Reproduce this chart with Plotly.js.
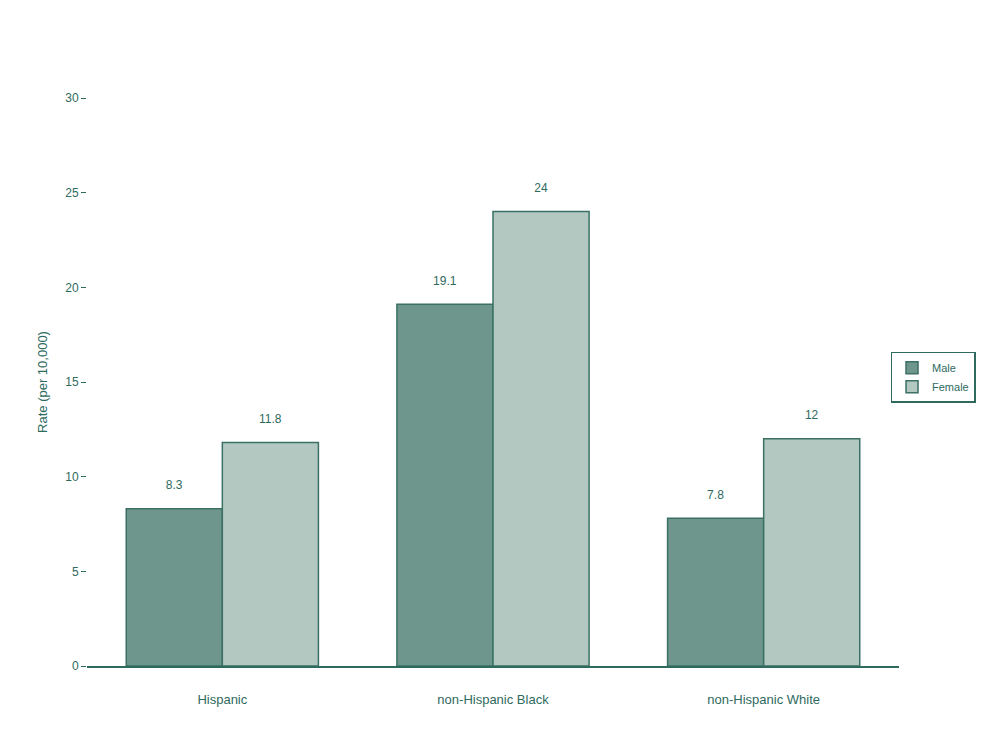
<!DOCTYPE html>
<html>
<head>
<meta charset="utf-8">
<script src="https://cdn.plot.ly/plotly-3.0.1.min.js"></script>
<style>html,body{margin:0;padding:0;background:#fff;}#chart{width:984px;height:736px;}</style>
</head>
<body>
<div id="chart"></div>
<script>
const categories = ["Hispanic", "non-Hispanic Black", "non-Hispanic White"];
const maleValues = [8.3, 19.1, 7.8];
const femaleValues = [11.8, 24, 12];
const yTickValues = [0, 5, 10, 15, 20, 25, 30];

const ink = "#2f6a5e";
const font = {family: "Liberation Sans, Arial, sans-serif", size: 12, color: ink};
const labelTemplate = "%{text}<br><span style=\"font-size:5px\"> </span>";

const traces = [
  {
    type: "bar", name: "Male", x: categories, y: maleValues,
    marker: {color: "#6f968c", line: {color: "#3a7164", width: 1.5}},
    text: maleValues.map(v => String(v)),
    texttemplate: labelTemplate, textposition: "outside", cliponaxis: false,
    textfont: {family: font.family, size: 12, color: ink}
  },
  {
    type: "bar", name: "Female", x: categories, y: femaleValues,
    marker: {color: "#b2c8c0", line: {color: "#3a7164", width: 1.5}},
    text: femaleValues.map(v => String(v)),
    texttemplate: labelTemplate, textposition: "outside", cliponaxis: false,
    textfont: {family: font.family, size: 12, color: ink}
  }
];

const layout = {
  width: 984, height: 736,
  paper_bgcolor: "#ffffff", plot_bgcolor: "#ffffff",
  font: font,
  margin: {l: 87, r: 85, t: 98, b: 70, autoexpand: false},
  barmode: "group", bargap: 0.29, bargroupgap: 0,
  showlegend: true,
  legend: {
    xref: "container", yref: "container",
    x: 0.905, xanchor: "left", y: 0.522, yanchor: "top",
    bordercolor: ink, borderwidth: 1.5, bgcolor: "#ffffff",
    font: {family: font.family, size: 11, color: ink},
    itemwidth: 30, tracegroupgap: 2
  },
  xaxis: {
    type: "category", range: [-0.5, 2.5],
    showline: true, linecolor: ink, linewidth: 2,
    showgrid: false, zeroline: false, ticks: "",
    ticklabelstandoff: 20,
    tickfont: {family: font.family, size: 13, color: ink}
  },
  yaxis: {
    range: [0, 30], tickmode: "array", tickvals: yTickValues,
    showline: false, showgrid: false, zeroline: false,
    ticks: "outside", ticklen: 5, tickcolor: ink, tickwidth: 1,
    tickfont: {family: font.family, size: 12, color: ink},
    title: {text: "Rate (per 10,000)", font: {family: font.family, size: 13, color: ink}, standoff: 14}
  }
};

Plotly.newPlot("chart", traces, layout, {displayModeBar: false, staticPlot: true});
</script>
</body>
</html>
